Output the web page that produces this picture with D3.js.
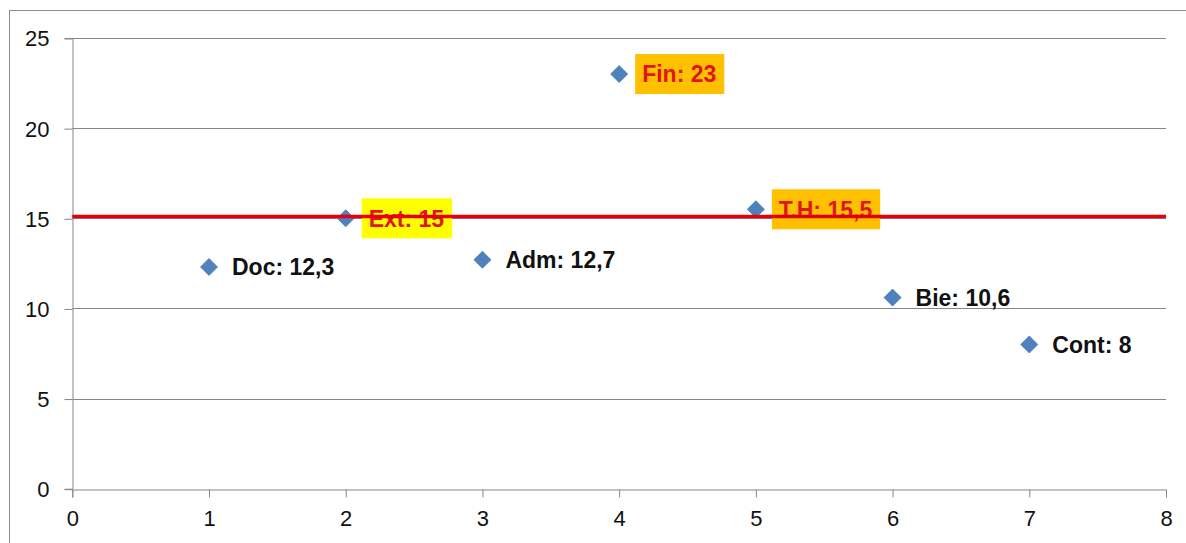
<!DOCTYPE html>
<html>
<head>
<meta charset="utf-8">
<script src="https://cdn.jsdelivr.net/npm/d3@7"></script>
<style>
  html, body { margin: 0; padding: 0; background: #fff; }
  svg { display: block; }
</style>
</head>
<body>
<div id="chart"></div>
<script>
// Series: department scores plotted by index
const names   = ["Doc", "Ext", "Adm", "Fin", "T.H", "Bie", "Cont"];
const xValues = [1, 2, 3, 4, 5, 6, 7];
const yValues = [12.3, 15, 12.7, 23, 15.5, 10.6, 8];
const valueText = ["12,3", "15", "12,7", "23", "15,5", "10,6", "8"];
// Highlight fill behind a label (null = plain label)
const highlight = [null, "#ffff00", null, "#ffc000", "#ffc000", null, null];

// Horizontal reference line
const refLineX = [0, 8];
const refLineY = 15.1;

// Axis ticks
const xTicks = [0, 1, 2, 3, 4, 5, 6, 7, 8];
const yTicks = [0, 5, 10, 15, 20, 25];

const W = 1186, H = 543;

const svg = d3.select("#chart").append("svg")
  .attr("width", W).attr("height", H);

svg.append("rect").attr("width", W).attr("height", H).attr("fill", "#fff");

// Chart frame
svg.append("rect")
  .attr("x", 9.5).attr("y", 10.5)
  .attr("width", 1200).attr("height", 600)
  .attr("fill", "none").attr("stroke", "#8c8c8c").attr("stroke-width", 1);

const x = d3.scaleLinear().domain([0, 8]).range([72.3, 1166]);
const y = d3.scaleLinear().domain([0, 25]).range([488.7, 38]);

const gridColor = "#878787";
const fontTicks = "'Liberation Sans', Arial, sans-serif";

// Horizontal gridlines
svg.append("g")
  .selectAll("line")
  .data(yTicks.filter(d => d > 0))
  .join("line")
  .attr("x1", x(0)).attr("x2", x(8))
  .attr("y1", d => Math.round(y(d)) + 0.5)
  .attr("y2", d => Math.round(y(d)) + 0.5)
  .attr("stroke", gridColor).attr("stroke-width", 1);

// Y axis
const yAxis = svg.append("g")
  .attr("transform", `translate(${Math.round(x(0)) + 0.5},0)`)
  .call(d3.axisLeft(y).tickValues(yTicks).tickSize(8).tickPadding(15)
        .tickFormat(d3.format("d")));
yAxis.select(".domain").attr("stroke", gridColor);
yAxis.selectAll(".tick line").attr("stroke", gridColor)
  .attr("transform", "translate(0,0.5)");
yAxis.selectAll(".tick text")
  .attr("font-family", fontTicks).attr("font-size", 22)
  .attr("fill", "#111").attr("dy", "0.36em");

// X axis
const xAxis = svg.append("g")
  .attr("transform", `translate(0,${Math.round(y(0)) + 0.5})`)
  .call(d3.axisBottom(x).tickValues(xTicks).tickSize(8).tickPadding(13)
        .tickFormat(d3.format("d")));
xAxis.select(".domain").attr("stroke", gridColor);
xAxis.selectAll(".tick line").attr("stroke", gridColor);
xAxis.selectAll(".tick text")
  .attr("font-family", fontTicks).attr("font-size", 22)
  .attr("fill", "#111");

// Points
const pts = xValues.map((v, i) => ({
  x: v, y: yValues[i], name: names[i], text: valueText[i], bg: highlight[i]
}));

const diamond = d3.symbol().type(d3.symbolDiamond2).size(185);
svg.append("g")
  .selectAll("path")
  .data(pts)
  .join("path")
  .attr("d", diamond)
  .attr("transform", d => `translate(${x(d.x)},${y(d.y)})`)
  .attr("fill", "#4f81bd")
  .attr("stroke", "#4a78b0").attr("stroke-width", 0.8);

// Data labels
const labelFont = "'Liberation Sans', Arial, sans-serif";
const labels = svg.append("g");
pts.forEach(d => {
  const g = labels.append("g")
    .attr("transform", `translate(${x(d.x)},${y(d.y)})`);
  const boxX = 16, padL = 7, padR = 8;
  const rect = g.append("rect");
  const t = g.append("text")
    .attr("x", d.bg ? boxX + padL : 23)
    .attr("y", 0)
    .attr("dy", "0.36em")
    .attr("font-family", labelFont)
    .attr("font-size", 23)
    .attr("font-weight", "bold")
    .attr("fill", d.bg ? "#e2151b" : "#111")
    .text(`${d.name}: ${d.text}`);
  if (d.bg) {
    const w = t.node().getComputedTextLength();
    rect.attr("x", boxX).attr("y", -20)
      .attr("width", padL + w + padR).attr("height", 40)
      .attr("fill", d.bg);
  } else {
    rect.remove();
  }
});

// Reference line drawn over everything
svg.append("path")
  .datum(refLineX)
  .attr("d", d3.line().x(d => x(d)).y(() => y(refLineY)))
  .attr("stroke", "#e3000f")
  .attr("stroke-width", 3.5)
  .attr("fill", "none");
</script>
</body>
</html>
